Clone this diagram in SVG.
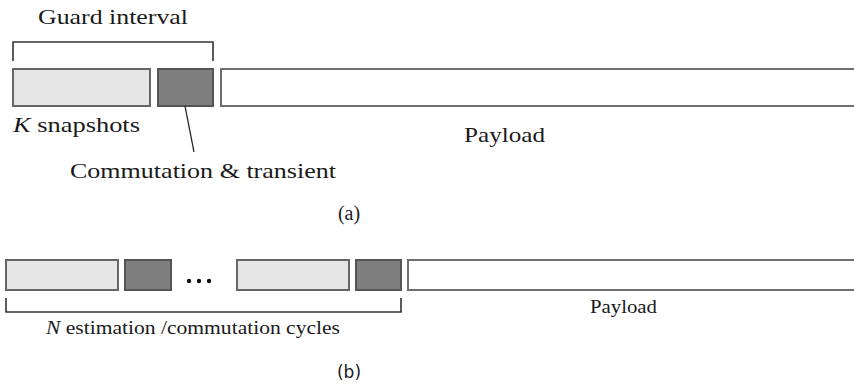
<svg xmlns="http://www.w3.org/2000/svg" width="854" height="387" viewBox="0 0 854 387">
  <style>
    .bg { fill: #ffffff; }
    .snap { fill: #e6e6e6; stroke: #666666; stroke-width: 2; }
    .comm { fill: #7f7f7f; stroke: #555555; stroke-width: 2; }
    .pay { fill: #ffffff; stroke: #6e6e6e; stroke-width: 2; }
    .brace { fill: none; stroke: #333333; stroke-width: 1.6; }
    .lead { fill: none; stroke: #222222; stroke-width: 1.3; }
    text { fill: #1a1a1a; }
    .dot { fill: #111111; }
  </style>
  <rect class="bg" x="0" y="0" width="854" height="387"/>

  <!-- (a) single guard interval followed by payload -->
  <g id="a-guard-label">
    <text x="38" y="24" font-family="'Liberation Serif', 'DejaVu Serif', serif" font-size="22" textLength="150" lengthAdjust="spacingAndGlyphs">Guard interval</text>
  </g>
  <g id="a-snapshots">
    <rect class="snap" x="13" y="69" width="137" height="37"/>
    <text x="13" y="132" font-family="'Liberation Serif', 'DejaVu Serif', serif" font-size="22" textLength="127" lengthAdjust="spacingAndGlyphs"><tspan font-style="italic">K</tspan> snapshots</text>
  </g>
  <g id="a-commutation">
    <rect class="comm" x="158" y="69" width="55" height="37"/>
    <text x="70" y="178" font-family="'Liberation Serif', 'DejaVu Serif', serif" font-size="22" textLength="266" lengthAdjust="spacingAndGlyphs">Commutation &amp; transient</text>
  </g>
  <g id="a-payload">
    <rect class="pay" x="221" y="69" width="650" height="37"/>
    <text x="464" y="142" font-family="'Liberation Serif', 'DejaVu Serif', serif" font-size="22" textLength="81" lengthAdjust="spacingAndGlyphs">Payload</text>
  </g>
  <text x="349" y="220" font-family="'Liberation Serif', 'DejaVu Serif', serif" font-size="20" text-anchor="middle">(a)</text>

  <!-- (b) repeated estimation / commutation cycles followed by payload -->
  <g id="b-snapshots-1">
    <rect class="snap" x="6" y="260" width="112" height="30"/>
  </g>
  <g id="b-commutation-1">
    <rect class="comm" x="125" y="260" width="46" height="30"/>
  </g>
  <g id="b-ellipsis">
    <circle class="dot" cx="189" cy="281" r="2.2"/>
    <circle class="dot" cx="199" cy="281" r="2.2"/>
    <circle class="dot" cx="209" cy="281" r="2.2"/>
  </g>
  <g id="b-snapshots-n">
    <rect class="snap" x="237" y="260" width="112" height="30"/>
  </g>
  <g id="b-commutation-n">
    <rect class="comm" x="356" y="260" width="45" height="30"/>
  </g>
  <g id="b-payload">
    <rect class="pay" x="408" y="260" width="460" height="30"/>
    <text x="590" y="313" font-family="'Liberation Serif', 'DejaVu Serif', serif" font-size="18" textLength="67" lengthAdjust="spacingAndGlyphs">Payload</text>
  </g>
  <g id="b-cycles-label">
    <text x="46" y="334" font-family="'Liberation Serif', 'DejaVu Serif', serif" font-size="19" textLength="294" lengthAdjust="spacingAndGlyphs"><tspan font-style="italic">N</tspan> estimation /commutation cycles</text>
  </g>
  <text x="349" y="378" font-family="'DejaVu Sans', 'Liberation Sans', sans-serif" font-size="17" text-anchor="middle">(b)</text>

  <!-- brackets and leader line -->
  <g id="connectors">
    <path class="brace" d="M13,61 V42 H213 V61"/>
    <path class="lead" d="M185,106 L194,152"/>
    <path class="brace" d="M6,298 V312 H401 V298"/>
  </g>
</svg>
